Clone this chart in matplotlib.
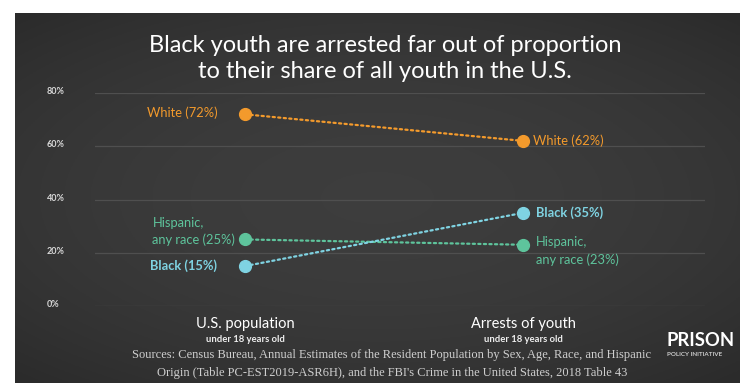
import matplotlib
matplotlib.use("Agg")
import matplotlib.pyplot as plt
import numpy as np

# ---- data ----
categories = ["U.S. population", "Arrests of youth"]
subtitles = ["under 18 years old", "under 18 years old"]
groups = ["White", "Black", "Hispanic"]
white = [72, 62]
black = [15, 35]
hispanic = [25, 23]
yticks = [0, 20, 40, 60, 80]
ytick_labels = ["0%", "20%", "40%", "60%", "80%"]

W, H = 740, 383
fig = plt.figure(figsize=(W / 100, H / 100), dpi=100)
fig.patch.set_facecolor("white")

# background panel with soft vignette
bg = fig.add_axes([15 / W, 0, 1 - 15 / W, (H - 13) / H])
yy, xx = np.mgrid[-1:1:200j, -1:1:400j]
r = np.sqrt((xx * 0.9) ** 2 + (yy * 1.0) ** 2)
base = np.clip(0.24 - 0.04 * r ** 2, 0.17, 0.26)
img = np.dstack([base, base, base])
bg.imshow(img, aspect="auto", extent=[0, 1, 0, 1])
bg.set_axis_off()

ORANGE = "#f39a2c"
CYAN = "#7fd3e2"
GREEN = "#5ec49c"
GRID = "#4f4f4f"
TXT = "#d8d8d8"

ax = fig.add_axes([95 / W, 77 / H, 610 / W, 213 / H])
ax.set_facecolor("none")
ax.set_ylim(0, 80)
ax.set_xlim(-0.539, 1.653)
for s in ax.spines.values():
    s.set_visible(False)
ax.set_xticks([])
ax.set_yticks(yticks)
ax.set_yticklabels([])
ax.tick_params(length=0)
for t in yticks:
    ax.axhline(t, color=GRID, lw=0.9, zorder=0)

# y labels (placed further left than axes)
for t, lab in zip(yticks, ytick_labels):
    ax.annotate(lab, xy=(0, t), xycoords=("axes fraction", "data"),
                xytext=(-34.5, 1), textcoords="offset points",
                ha="left", va="center", fontsize=6.5, color=TXT,
                family="Lato", fontweight="bold")

x = [0, 1]
for vals, col in [(white, ORANGE), (hispanic, GREEN), (black, CYAN)]:
    ax.plot(x, vals, color=col, lw=1.6, ls=(0, (1, 1.5)),
            dash_capstyle="round", zorder=2)
    ax.plot(x, vals, "o", color=col, ms=8.5, zorder=3, clip_on=False)

lab_kw = dict(fontsize=9.3, family="Lato", textcoords="offset points")
# left labels
ax.annotate(f"White ({white[0]}%)", xy=(0, white[0]), xytext=(-20, 1),
            ha="right", va="center", color=ORANGE, **lab_kw)
ax.annotate(f"Black ({black[0]}%)", xy=(0, black[0]), xytext=(-20, 0),
            ha="right", va="center", color=CYAN, fontweight="bold", **lab_kw)
ax.annotate(f"Hispanic,\nany race ({hispanic[0]}%)", xy=(0, hispanic[0]),
            xytext=(-7, -5), ha="right", va="bottom", multialignment="left",
            color=GREEN, linespacing=1.5, **lab_kw)
# right labels
ax.annotate(f"White ({white[1]}%)", xy=(1, white[1]), xytext=(7, 0),
            ha="left", va="center", color=ORANGE, **lab_kw)
ax.annotate(f"Black ({black[1]}%)", xy=(1, black[1]), xytext=(9, 0),
            ha="left", va="center", color=CYAN, fontweight="bold", **lab_kw)
ax.annotate(f"Hispanic,\nany race ({hispanic[1]}%)", xy=(1, hispanic[1]),
            xytext=(9, 6), ha="left", va="top", multialignment="left",
            color=GREEN, linespacing=1.5, **lab_kw)

# category labels
for xi, cat, sub in zip(x, categories, subtitles):
    ax.annotate(cat, xy=(xi, 0), xytext=(0, -8), textcoords="offset points",
                ha="center", va="top", fontsize=10.5, color="white",
                family="Lato")
    ax.annotate(sub, xy=(xi, 0), xytext=(0, -21), textcoords="offset points",
                ha="center", va="top", fontsize=6.8, color="#eeeeee",
                family="Lato", fontweight="bold")

# title
fig.text(385 / W, 1 - 45 / H, "Black youth are arrested far out of proportion",
         ha="center", va="center", fontsize=17, color="white", family="Lato")
fig.text(385 / W, 1 - 72 / H, "to their share of all youth in the U.S.",
         ha="center", va="center", fontsize=17, color="white", family="Lato")

# sources
fig.text(392 / W, 1 - 355 / H,
         "Sources: Census Bureau, Annual Estimates of the Resident Population by Sex, Age, Race, and Hispanic",
         ha="center", va="center", fontsize=9.0, color="#cfcfcf",
         family="Liberation Serif")
fig.text(392 / W, 1 - 373 / H,
         "Origin (Table PC-EST2019-ASR6H), and the FBI's Crime in the United States, 2018 Table 43",
         ha="center", va="center", fontsize=9.0, color="#cfcfcf",
         family="Liberation Serif")

# logo
fig.text(667 / W, 1 - 340 / H, "PRISON", ha="left", va="center", fontsize=13.3,
         color="white", family="Lato", fontweight="bold")
fig.text(667 / W, 1 - 355 / H, "POLICY INITIATIVE", ha="left", va="center",
         fontsize=4.5, color="#cccccc", family="Lato", fontweight="bold")

fig.savefig("out.png", dpi=100, facecolor=fig.get_facecolor())
